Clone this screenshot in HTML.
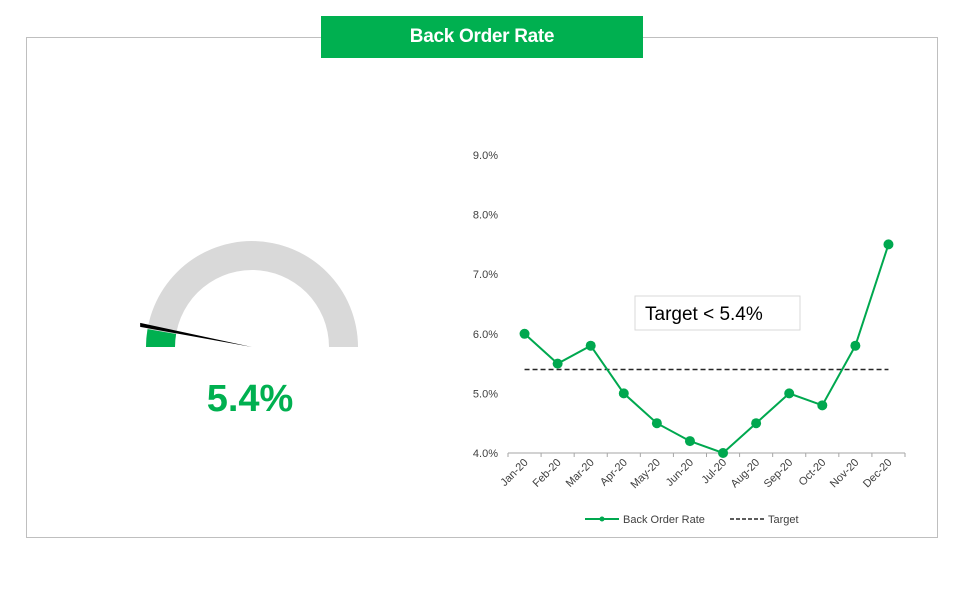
<!DOCTYPE html>
<html><head><meta charset="utf-8"><style>
body{margin:0;width:960px;height:600px;background:#fff;font-family:"Liberation Sans",Arial,sans-serif;position:relative;overflow:hidden}
#frame{position:absolute;left:26px;top:37px;width:910px;height:499px;border:1px solid #bfbfbf}
#title{position:absolute;left:321px;top:16px;width:322px;height:42px;background:#00b050;color:#fff;font-weight:bold;font-size:19px;line-height:42px;text-align:center;letter-spacing:-0.3px}
#val{position:absolute;left:150px;top:378px;width:200px;text-align:center;color:#00b050;font-weight:bold;font-size:38px}
</style></head><body>
<div id="frame"></div>
<div id="title">Back Order Rate</div>
<svg width="960" height="600" style="position:absolute;left:0;top:0">
<g id="gauge"></g>
</svg>
<div id="val">5.4%</div>
<svg id="chart" width="960" height="600" style="position:absolute;left:0;top:0"></svg>
<script>
const months=["Jan-20","Feb-20","Mar-20","Apr-20","May-20","Jun-20","Jul-20","Aug-20","Sep-20","Oct-20","Nov-20","Dec-20"];
const rates=[6.0,5.5,5.8,5.0,4.5,4.2,4.0,4.5,5.0,4.8,5.8,7.5];
const target=5.4;
const yTicks=[4,5,6,7,8,9];
const gaugeValue=5.4;
const gaugeMax=100;
const NS="http://www.w3.org/2000/svg";
function mk(p,t,a){const e=document.createElementNS(NS,t);for(const k in a)e.setAttribute(k,a[k]);p.appendChild(e);return e;}
// gauge
const g=document.getElementById('gauge');
const cx=252,cy=347,R=106,r=77;
function arc(a0,a1){const p=(rad,a)=>[cx-rad*Math.cos(a),cy-rad*Math.sin(a)];
const [x0,y0]=p(R,a0),[x1,y1]=p(R,a1),[x2,y2]=p(r,a1),[x3,y3]=p(r,a0);
return `M${x0},${y0}A${R},${R} 0 0 1 ${x1},${y1}L${x2},${y2}A${r},${r} 0 0 0 ${x3},${y3}Z`;}
let e=mk(g,'path',{d:arc(0,Math.PI),fill:'#d9d9d9'});

const ang=gaugeValue/gaugeMax*Math.PI;
e=mk(g,'path',{d:arc(0,ang),fill:'#00b050'});

const tx=cx-(R+8)*Math.cos(ang*1.15),ty=cy-(R+8)*Math.sin(ang*1.15);
e=mk(g,'polygon',{points:`${cx},${cy} ${tx},${ty-2} ${tx},${ty+2}`,fill:'#000'});

// chart
const s=document.getElementById('chart');
const x0=508,x1=905,yB=453,pp=59.6;
const bw=(x1-x0)/months.length;
const X=i=>x0+bw*(i+0.5);
const Y=v=>yB-(v-4)*pp;
yTicks.forEach(t=>{e=mk(s,'text',{x:498,y:Y(t)+4,'text-anchor':'end','font-size':11,fill:'#404040'});e.textContent=t.toFixed(1)+'%';
});
e=mk(s,'line',{x1:x0,y1:yB,x2:x1,y2:yB,stroke:'#a6a6a6'});

months.forEach((m,i)=>{const tx=x0+bw*i;mk(s,'line',{x1:tx,y1:yB,x2:tx,y2:yB+4,stroke:'#a6a6a6'});
if(i==months.length-1)mk(s,'line',{x1:x1,y1:yB,x2:x1,y2:yB+4,stroke:'#a6a6a6'});
const lx=X(i)+4,ly=yB+10;
e=mk(s,'text',{x:lx,y:ly,'text-anchor':'end','font-size':11,fill:'#404040',transform:`rotate(-45 ${lx} ${ly})`});e.textContent=m;
});
e=mk(s,'line',{x1:X(0),y1:Y(target),x2:X(11),y2:Y(target),stroke:'#262626','stroke-width':1.5,'stroke-dasharray':'5,3'});

e=mk(s,'polyline',{points:rates.map((v,i)=>X(i)+','+Y(v)).join(' '),fill:'none',stroke:'#00a84f','stroke-width':2});

rates.forEach((v,i)=>{e=mk(s,'circle',{cx:X(i),cy:Y(v),r:5,fill:'#00a84f'});
});
e=mk(s,'rect',{x:635,y:296,width:165,height:34,fill:'#fff',stroke:'#d9d9d9'});

e=mk(s,'text',{x:645,y:320,'font-size':19,fill:'#000'});e.textContent='Target < 5.4%';

// legend
mk(s,'line',{x1:585,y1:519,x2:619,y2:519,stroke:'#00a84f','stroke-width':2});
mk(s,'circle',{cx:602,cy:519,r:2.5,fill:'#00a84f'});
e=mk(s,'text',{x:623,y:523,'font-size':11,fill:'#404040'});e.textContent='Back Order Rate';

mk(s,'line',{x1:730,y1:519,x2:765,y2:519,stroke:'#262626','stroke-width':1.5,'stroke-dasharray':'4,2'});
e=mk(s,'text',{x:768,y:523,'font-size':11,fill:'#404040'});e.textContent='Target';

</script>
</body></html>
